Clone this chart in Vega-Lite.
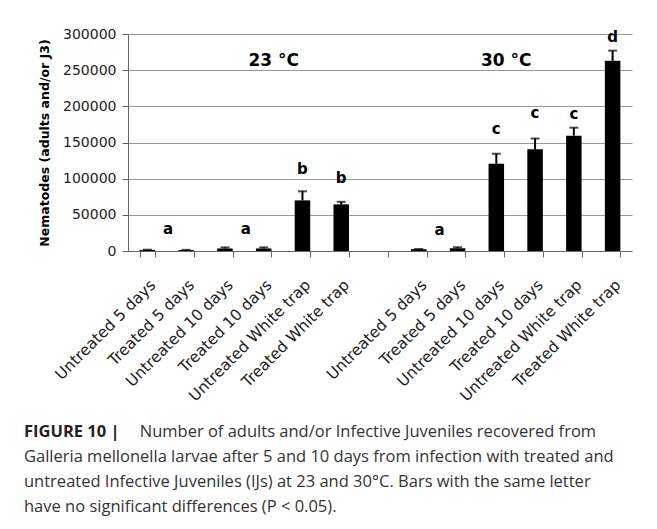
{
  "$schema": "https://vega.github.io/schema/vega-lite/v6.json",
  "width": 504,
  "height": 217,
  "autosize": {"type": "none"},
  "padding": {"left": 128, "top": 34, "right": 25, "bottom": 278},
  "background": "white",
  "datasets": {
    "bars": [
      {"key": "23 Untreated 5 days", "value": 1500, "upper": 1800},
      {"key": "23 Treated 5 days", "value": 1300, "upper": 1600},
      {"key": "23 Untreated 10 days", "value": 3500, "upper": 5000},
      {"key": "23 Treated 10 days", "value": 3500, "upper": 5000},
      {"key": "23 Untreated White trap", "value": 70000, "upper": 82500},
      {"key": "23 Treated White trap", "value": 64500, "upper": 68000},
      {"key": "30 Untreated 5 days", "value": 2500, "upper": 2800},
      {"key": "30 Treated 5 days", "value": 3800, "upper": 5200},
      {"key": "30 Untreated 10 days", "value": 120500, "upper": 134500},
      {"key": "30 Treated 10 days", "value": 140500, "upper": 155500},
      {"key": "30 Untreated White trap", "value": 159500, "upper": 170500},
      {"key": "30 Treated White trap", "value": 263000, "upper": 277000}
    ],
    "pairLetters": [
      {"key": "23 Treated 5 days", "letter": "a", "y": 31000},
      {"key": "23 Treated 10 days", "letter": "a", "y": 30000},
      {"key": "30 Treated 5 days", "letter": "a", "y": 29000}
    ],
    "barLetters": [
      {"key": "23 Untreated White trap", "letter": "b", "y": 114000},
      {"key": "23 Treated White trap", "letter": "b", "y": 100500},
      {"key": "30 Untreated 10 days", "letter": "c", "y": 168000},
      {"key": "30 Treated 10 days", "letter": "c", "y": 190500},
      {"key": "30 Untreated White trap", "letter": "c", "y": 189500},
      {"key": "30 Treated White trap", "letter": "d", "y": 296000}
    ],
    "temps": [
      {"key": "23 Treated 10 days", "label": "23 °C", "y": 263000},
      {"key": "30 Untreated 10 days", "label": "30 °C", "y": 263000}
    ]
  },
  "title": {
    "text": "FIGURE 10 |",
    "subtitle": [
      "\u200b\u00a0\u00a0\u00a0\u00a0\u00a0\u00a0\u00a0\u00a0\u00a0\u00a0\u00a0\u00a0\u00a0\u00a0\u00a0\u00a0\u00a0\u00a0\u00a0\u00a0\u00a0\u00a0\u00a0\u00a0\u00a0\u00a0\u00a0Number of adults and/or Infective Juveniles recovered from",
      "Galleria mellonella larvae after 5 and 10 days from infection with treated and",
      "untreated Infective Juveniles (IJs) at 23 and 30°C. Bars with the same letter",
      "have no significant differences (P < 0.05)."
    ],
    "orient": "bottom",
    "anchor": "start",
    "frame": "group",
    "dx": -104,
    "offset": 20,
    "font": "Open Sans",
    "fontSize": 16.5,
    "fontWeight": "bold",
    "color": "#222",
    "subtitleFont": "Open Sans",
    "subtitleFontSize": 16.5,
    "subtitleColor": "#333",
    "subtitleLineHeight": 25,
    "subtitlePadding": -17
  },
  "layer": [
    {
      "data": {"name": "bars"},
      "mark": {"type": "bar", "color": "black"},
      "encoding": {
        "x": {"field": "key", "type": "nominal", "title": null,
          "scale": {"domain": ["23 Untreated 5 days", "23 Treated 5 days", "23 Untreated 10 days", "23 Treated 10 days", "23 Untreated White trap", "23 Treated White trap", "gap", "30 Untreated 5 days", "30 Treated 5 days", "30 Untreated 10 days", "30 Treated 10 days", "30 Untreated White trap", "30 Treated White trap"], "paddingInner": 0.6, "paddingOuter": 0.3},
          "axis": {"labelExpr": "(!datum.value || datum.value == 'gap') ? '' : substring(datum.value, 3)"}},
        "y": {"field": "value", "type": "quantitative", "title": "Nematodes (adults and/or J3)",
          "scale": {"domain": [0, 300000], "nice": false}}
      }
    },
    {
      "data": {"name": "bars"},
      "mark": {"type": "rule", "color": "black", "strokeWidth": 2},
      "encoding": {
        "x": {"field": "key", "type": "nominal", "title": null},
        "y": {"field": "value", "type": "quantitative", "title": "Nematodes (adults and/or J3)"},
        "y2": {"field": "upper"}
      }
    },
    {
      "data": {"name": "bars"},
      "mark": {"type": "tick", "color": "black", "thickness": 2, "size": 9},
      "encoding": {
        "x": {"field": "key", "type": "nominal", "title": null},
        "y": {"field": "upper", "type": "quantitative", "title": "Nematodes (adults and/or J3)"}
      }
    },
    {
      "data": {"name": "pairLetters"},
      "mark": {"type": "text", "font": "DejaVu Sans", "fontWeight": "bold", "fontSize": 15, "baseline": "middle", "dx": -18, "color": "black"},
      "encoding": {
        "x": {"field": "key", "type": "nominal", "title": null},
        "y": {"field": "y", "type": "quantitative", "title": "Nematodes (adults and/or J3)"},
        "text": {"field": "letter"}
      }
    },
    {
      "data": {"name": "barLetters"},
      "mark": {"type": "text", "font": "DejaVu Sans", "fontWeight": "bold", "fontSize": 15, "baseline": "middle", "color": "black"},
      "encoding": {
        "x": {"field": "key", "type": "nominal", "title": null},
        "y": {"field": "y", "type": "quantitative", "title": "Nematodes (adults and/or J3)"},
        "text": {"field": "letter"}
      }
    },
    {
      "data": {"name": "temps"},
      "mark": {"type": "text", "font": "DejaVu Sans", "fontWeight": "bold", "fontSize": 17, "baseline": "middle", "dx": 10, "color": "black"},
      "encoding": {
        "x": {"field": "key", "type": "nominal", "title": null},
        "y": {"field": "y", "type": "quantitative", "title": "Nematodes (adults and/or J3)"},
        "text": {"field": "label"}
      }
    }
  ],
  "config": {
    "view": {"stroke": null},
    "axis": {"domainColor": "#666", "tickColor": "#666", "tickSize": 6, "labelFont": "DejaVu Sans", "labelFontSize": 14, "labelColor": "#222", "titleFont": "DejaVu Sans"},
    "axisX": {"grid": false, "labelAngle": -45, "tickBand": "extent", "labelPadding": 20, "labelFontSize": 15.5},
    "axisY": {"grid": true, "gridColor": "#999", "tickCount": 6, "format": "d", "labelPadding": 6, "titleFontWeight": "bold", "titleFontSize": 12.5, "titleColor": "#000", "titlePadding": 11}
  }
}
